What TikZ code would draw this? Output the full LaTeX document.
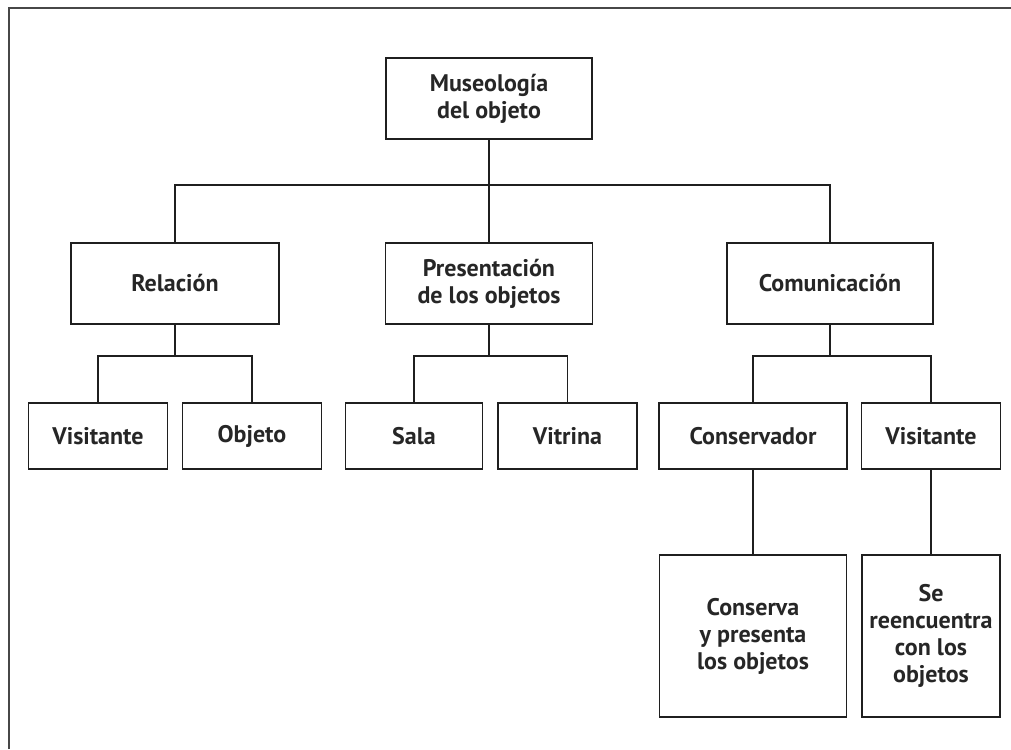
\documentclass[tikz,border=0pt]{standalone}
\usepackage{fontspec}
\setmainfont{PT Sans}
\begin{document}
\begin{tikzpicture}[x=1pt,y=-1pt,
  box/.style={draw=black!88, line width=1.6pt, align=center, inner sep=2pt,
    font=\fontsize{24}{27}\selectfont\bfseries, text=black!85},
  link/.style={draw=black!88, line width=1.6pt},
  frameline/.style={draw=black!72, line width=2pt}]
\useasboundingbox (0,0) rectangle (1011,749);
% outer frame (top and left edges)
\draw[frameline] (9,749) -- (9,8) -- (1011,8);

% level 1
\node[box, minimum width=206pt, minimum height=81pt] (top) at (489,98.5) {Museología\\del objeto};

% level 2
\node[box, minimum width=208pt, minimum height=81pt] (rel) at (175,283.5) {Relación};
\node[box, minimum width=207pt, minimum height=81pt] (pres) at (489,283.5) {Presentación\\de los objetos};
\node[box, minimum width=206pt, minimum height=81pt] (com) at (830,283.5) {Comunicación};

% level 3
\node[box, minimum width=139pt, minimum height=66pt] (vis1) at (98,436) {Visitante};
\node[box, minimum width=139pt, minimum height=66pt] (obj) at (252,436) {Objeto};
\node[box, minimum width=137pt, minimum height=66pt] (sala) at (414,436) {Sala};
\node[box, minimum width=139pt, minimum height=66pt] (vit) at (567.5,436) {Vitrina};
\node[box, minimum width=188pt, minimum height=66pt] (cons) at (753,436) {Conservador};
\node[box, minimum width=139pt, minimum height=66pt] (vis2) at (931,436) {Visitante};

% level 4
\node[box, minimum width=187pt, minimum height=162pt] (consb) at (753,636) {Conserva\\y presenta\\los objetos};
\node[box, minimum width=138pt, minimum height=162pt] (visb) at (931,636) {Se\\reencuentra\\con los\\objetos};

% connectors
\coordinate (j1) at (489,185);
\draw[link] (top.south) -- (pres.north);
\draw[link] (rel.north) |- (j1) -| (com.north);

\coordinate (j2) at (175,356);
\draw[link] (rel.south) -- (j2);
\draw[link] (vis1.north) |- (j2) -| (obj.north);

\coordinate (j3) at (489,356);
\draw[link] (pres.south) -- (j3);
\draw[link] (sala.north) |- (j3) -| (vit.north);

\coordinate (j4) at (830,356);
\draw[link] (com.south) -- (j4);
\draw[link] (cons.north) |- (j4) -| (vis2.north);

\draw[link] (cons.south) -- (consb.north);
\draw[link] (vis2.south) -- (visb.north);
\end{tikzpicture}
\end{document}
